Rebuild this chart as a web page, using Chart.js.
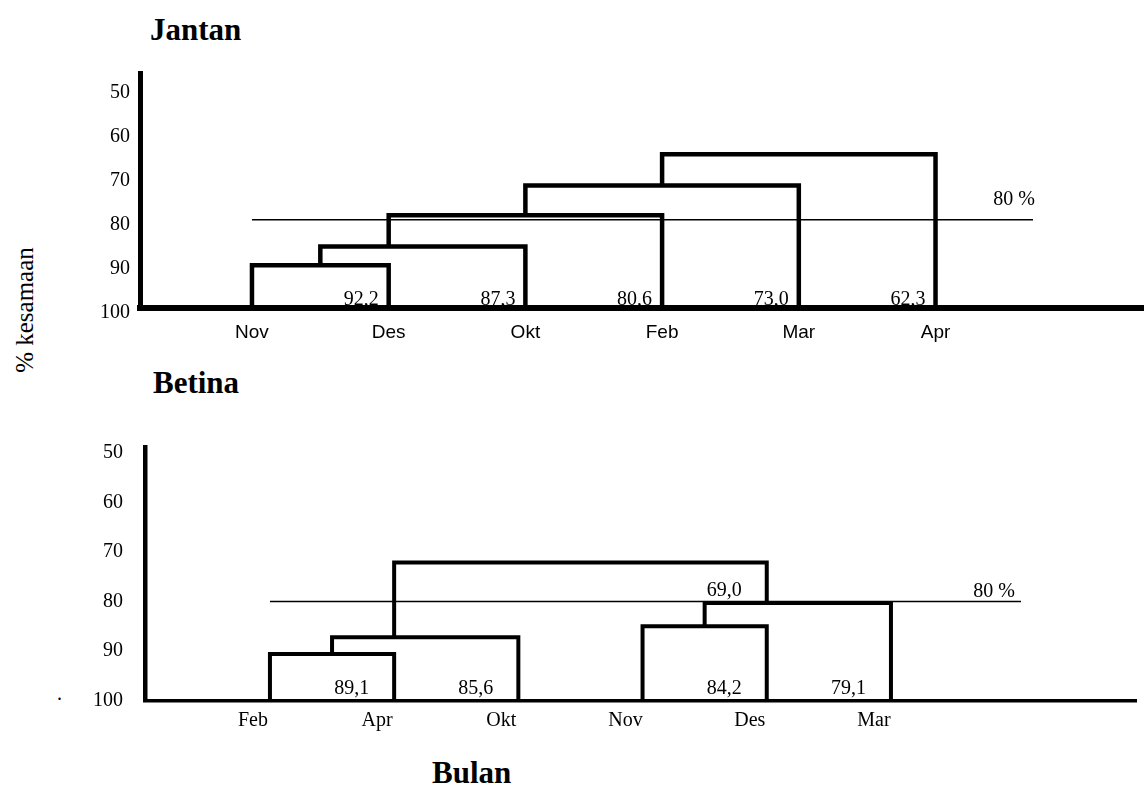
<!DOCTYPE html>
<html>
<head>
<meta charset="utf-8">
<script src="https://cdn.jsdelivr.net/npm/chart.js@4"></script>
<style>
    body { margin: 0; background: #fff; }
    #halaman {
        position: relative; width: 1144px; height: 803px; overflow: hidden;
        background: #fff; color: #000; font-family: "Liberation Serif", "Times New Roman", serif;
    }
    .judul { position: absolute; font-weight: bold; font-size: 31px; line-height: 1; white-space: nowrap; }
    #sumbuY {
        position: absolute; left: 24px; top: 310px; font-size: 25px; line-height: 1; white-space: nowrap;
        transform: translate(-50%, -50%) rotate(-90deg);
    }
    #titik { position: absolute; left: 57px; top: 683px; font-size: 20px; line-height: 1; }
    canvas { position: absolute; left: 0; }
</style>
</head>
<body>
<div id="halaman">
    <div class="judul" style="left:150px; top:14px;">Jantan</div>
    <div class="judul" style="left:153px; top:367px;">Betina</div>
    <div class="judul" style="left:432px; top:757px;">Bulan</div>
    <div id="sumbuY">% kesamaan</div>
    <div id="titik">.</div>
    <canvas id="grafikJantan" width="1144" height="310" style="top:50px"></canvas>
    <canvas id="grafikBetina" width="1144" height="350" style="top:400px"></canvas>
</div>

<script>
// =================== DATA ===================

// Jantan: urutan daun, lalu tiap penggabungan (anak kiri, anak kanan, tinggi)
// anak berupa angka = indeks bulan, "mN" = hasil penggabungan ke-N
const bulanJantan = ["Nov", "Des", "Okt", "Feb", "Mar", "Apr"];
const kiriJantan = [0, "m0", "m1", "m2", "m3"];
const kananJantan = [1, 2, 3, 4, 5];
const tinggiJantan = [90.4, 86.1, 79.0, 72.2, 65.1];
const nilaiJantan = [92.2, 87.3, 80.6, 73.0, 62.3];

// Betina
const bulanBetina = ["Feb", "Apr", "Okt", "Nov", "Des", "Mar"];
const kiriBetina = [0, "m0", 3, "m2", "m1"];
const kananBetina = [1, 2, 4, 5, "m3"];
const tinggiBetina = [90.6, 87.2, 85.0, 80.3, 72.1];
const nilaiBetina = [89.1, 85.6, 84.2, 79.1, 69.0];

const batasKesamaan = 80;
const tickKesamaan = [50, 60, 70, 80, 90, 100];

// =================== DENDROGRAM ===================

function susunDendrogram(kiri, kanan, tinggi) {
    const sambung = [];
    const garis = [];
    const posLabel = [];

    function daunKanan(k) {
        return typeof k === "number" ? k : daunKanan(kanan[Number(k.slice(1))]);
    }

    function titik(k) {
        if (typeof k === "number") return { x: k, y: 100 };
        const j = Number(k.slice(1));
        return { x: sambung[j], y: tinggi[j] };
    }

    for (let i = 0; i < tinggi.length; i++) {
        const a = titik(kiri[i]);
        const b = titik(kanan[i]);
        garis.push([
            { x: a.x, y: a.y },
            { x: a.x, y: tinggi[i] },
            { x: b.x, y: tinggi[i] },
            { x: b.x, y: b.y }
        ]);
        posLabel.push(b);
        // dua daun -> sambung di tengah, selain itu di atas daun paling kanan dari anak kiri
        if (typeof kiri[i] === "number" && typeof kanan[i] === "number") {
            sambung.push((a.x + b.x) / 2);
        } else {
            sambung.push(daunKanan(kiri[i]));
        }
    }

    return { garis, posLabel };
}

function pluginLabel(posLabel, nilai, gaya) {
    return {
        id: "labelDendro",
        beforeDatasetsDraw(chart) {
            const { ctx, chartArea, scales } = chart;
            const y = scales.y.getPixelForValue(batasKesamaan);
            const x0 = scales.x.getPixelForValue(0);
            const x1 = chartArea.right - gaya.sisaKanan;
            ctx.save();
            ctx.strokeStyle = "#000";
            ctx.lineWidth = 1.5;
            ctx.beginPath();
            ctx.moveTo(x0, y);
            ctx.lineTo(x1, y);
            ctx.stroke();
            ctx.font = "20px 'Liberation Serif'";
            ctx.fillStyle = "#000";
            ctx.textAlign = "right";
            ctx.fillText(batasKesamaan + " %", x1 + gaya.geserBatas[0], y + gaya.geserBatas[1]);
            ctx.restore();
        },
        afterDatasetsDraw(chart) {
            const { ctx, scales } = chart;
            ctx.save();
            ctx.font = "20px 'Liberation Serif'";
            ctx.fillStyle = "#000";
            ctx.textAlign = "right";
            posLabel.forEach((p, i) => {
                const teks = nilai[i].toFixed(1).replace(".", ",");
                ctx.fillText(teks,
                    scales.x.getPixelForValue(p.x) + gaya.geserLabel[0],
                    scales.y.getPixelForValue(p.y) + gaya.geserLabel[1]);
            });
            ctx.restore();
        }
    };
}

function buatGrafik(idKanvas, bulan, kiri, kanan, tinggi, nilai, gaya) {
    const d = susunDendrogram(kiri, kanan, tinggi);

    return new Chart(document.getElementById(idKanvas), {
        type: "scatter",
        data: {
            datasets: d.garis.map(g => ({
                data: g,
                showLine: true,
                borderColor: "#000",
                borderWidth: gaya.tebalGaris,
                borderJoinStyle: "miter",
                borderCapStyle: "butt",
                pointRadius: 0,
                pointHoverRadius: 0,
                tension: 0,
                clip: false
            }))
        },
        options: {
            responsive: false,
            animation: false,
            events: [],
            layout: { padding: { top: gaya.atas, right: gaya.kanan, left: 0, bottom: 0 } },
            plugins: { legend: { display: false }, tooltip: { enabled: false } },
            scales: {
                x: {
                    type: "linear",
                    min: gaya.xMin,
                    max: gaya.xMax,
                    afterBuildTicks: s => { s.ticks = bulan.map((_, i) => ({ value: i })); },
                    afterFit: s => { s.height = gaya.tinggiSumbuX; },
                    ticks: {
                        callback: v => bulan[v],
                        font: gaya.hurufBulan,
                        color: "#000",
                        padding: gaya.jarakBulan,
                        labelOffset: gaya.geserBulan,
                        autoSkip: false,
                        maxRotation: 0
                    },
                    grid: { display: false, drawTicks: false },
                    border: { display: true, width: gaya.tebalSumbuX, color: "#000" }
                },
                y: {
                    type: "linear",
                    reverse: true,
                    min: gaya.yMin,
                    max: 100,
                    afterBuildTicks: s => { s.ticks = tickKesamaan.map(v => ({ value: v })); },
                    afterFit: s => { s.width = gaya.lebarSumbuY; },
                    ticks: {
                        font: { family: "Liberation Serif", size: 20 },
                        color: "#000",
                        padding: gaya.jarakTickY,
                        labelOffset: gaya.geserTickY
                    },
                    grid: { display: false, drawTicks: false },
                    border: { display: true, width: gaya.tebalSumbuY, color: "#000" }
                }
            }
        },
        plugins: [pluginLabel(d.posLabel, nilai, gaya)]
    });
}

// =================== GRAFIK ===================

buatGrafik("grafikJantan", bulanJantan, kiriJantan, kananJantan, tinggiJantan, nilaiJantan, {
    xMin: -0.819, xMax: 6.525, yMin: 46.58,
    atas: 23, kanan: 0, tinggiSumbuX: 52.5, lebarSumbuY: 140,
    tebalGaris: 4.5, tebalSumbuX: 6, tebalSumbuY: 5,
    hurufBulan: { family: "Liberation Sans", size: 19 },
    jarakBulan: 14, geserBulan: 0,
    jarakTickY: 10, geserTickY: 5,
    sisaKanan: 111, geserBatas: [2, -15],
    geserLabel: [-10, -3]
});

buatGrafik("grafikBetina", bulanBetina, kiriBetina, kananBetina, tinggiBetina, nilaiBetina, {
    xMin: -1.006, xMax: 6.973, yMin: 48.79,
    atas: 47, kanan: 8, tinggiSumbuX: 49.5, lebarSumbuY: 145,
    tebalGaris: 4, tebalSumbuX: 3.5, tebalSumbuY: 4.5,
    hurufBulan: { family: "Liberation Serif", size: 20 },
    jarakBulan: 8, geserBulan: -17,
    jarakTickY: 22, geserTickY: 0,
    sisaKanan: 115, geserBatas: [-6, -4],
    geserLabel: [-25, -7]
});
</script>
</body>
</html>
